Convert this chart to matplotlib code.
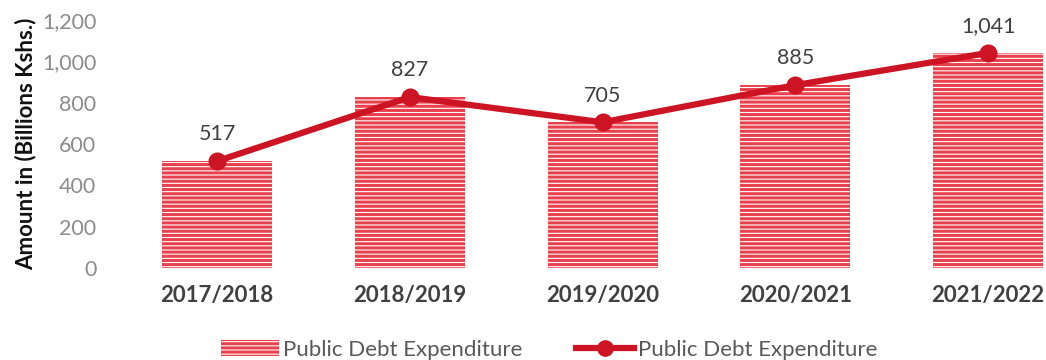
import matplotlib.pyplot as plt
from matplotlib.patches import Patch
from matplotlib.lines import Line2D

plt.rcParams['font.family'] = ['Lato', 'DejaVu Sans']
plt.rcParams['hatch.linewidth'] = 2.2

# Public debt expenditure per fiscal year, billions of Kenya shillings
years = ['2017/2018', '2018/2019', '2019/2020', '2020/2021', '2021/2022']
debt = [517, 827, 705, 885, 1041]
yticks = [0, 200, 400, 600, 800, 1000, 1200]

bar_red = '#e8404c'
line_red = '#cc1424'

fig = plt.figure(figsize=(10.46, 3.6), dpi=100)
ax = fig.add_axes([120 / 1046, 92 / 360, 926 / 1046, 248 / 360])

pos = range(len(years))
ax.bar(pos, debt, width=0.57, color='white', edgecolor=bar_red,
       hatch='----', linewidth=0)
ax.plot(pos, debt, color=line_red, linewidth=4.5, marker='o',
        markersize=12, zorder=3)

for x, v in zip(pos, debt):
    ax.annotate(f'{v:,}', (x, v), xytext=(0, 12), textcoords='offset points',
                ha='center', va='bottom', fontsize=15.5, color='#404040')

ax.set_xlim(-0.503, 4.30)
ax.set_ylim(0, 1200)
ax.set_yticks(yticks)
ax.set_yticklabels([f'{t:,}' for t in yticks], fontsize=15.5, color='#8c8c8c')
ax.set_xticks(list(pos))
ax.set_xticklabels(years, fontsize=16, fontweight='bold', color='#404040')
ax.tick_params(axis='y', length=0, pad=17)
ax.tick_params(axis='x', length=0, pad=12)
for s in ax.spines.values():
    s.set_visible(False)

ax.set_ylabel('Amount in (Billions Kshs.)', fontsize=16, fontweight='bold',
              color='#111111', labelpad=4)

handles = [
    Patch(facecolor='white', edgecolor=bar_red, hatch='----', linewidth=0,
          label='Public Debt Expenditure'),
    Line2D([0], [0], color=line_red, linewidth=4.5, marker='o', markersize=11,
           label='Public Debt Expenditure'),
]
leg = fig.legend(handles=handles, loc='center', bbox_to_anchor=(0.525, 0.028),
                 ncol=2, frameon=False, fontsize=16, handlelength=2.6,
                 columnspacing=2.4, handletextpad=0.2)
for t in leg.get_texts():
    t.set_color('#595959')

fig.savefig('out.png')
